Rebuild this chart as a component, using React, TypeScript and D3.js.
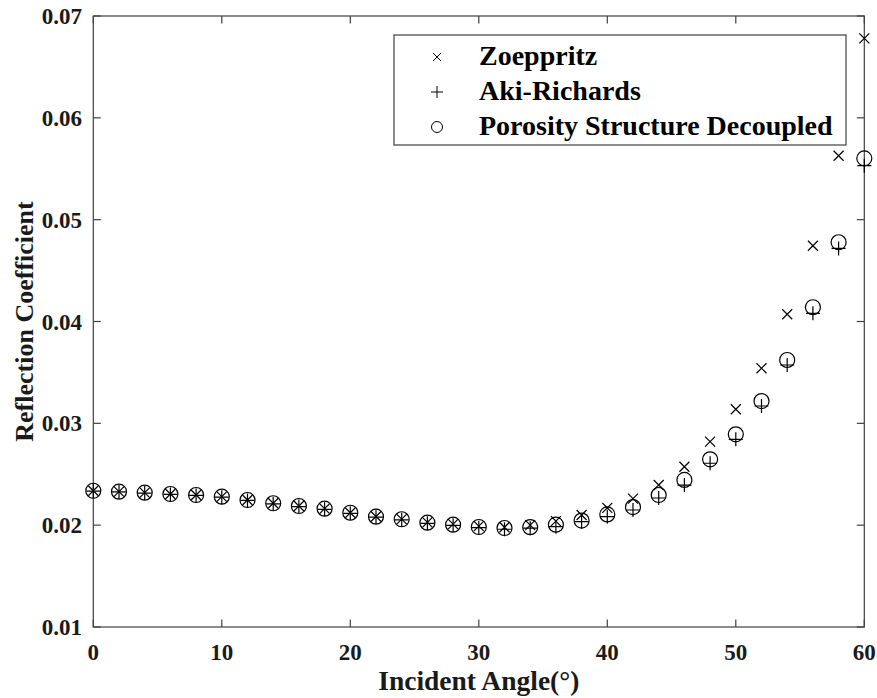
import React from "react";
import * as d3 from "d3";

// Incident angles (degrees)
const angles = [
  0, 2, 4, 6, 8, 10, 12, 14, 16, 18, 20, 22, 24, 26, 28, 30,
  32, 34, 36, 38, 40, 42, 44, 46, 48, 50, 52, 54, 56, 58, 60,
];

// Reflection coefficients per method
const zoeppritz = [
  0.02338, 0.02329, 0.02319, 0.02306, 0.02296, 0.0228, 0.02247, 0.02215,
  0.02188, 0.02162, 0.02122, 0.02085, 0.0206, 0.02028, 0.0201, 0.0199,
  0.0198, 0.02, 0.0204, 0.021, 0.0217, 0.0226, 0.02394, 0.02574, 0.0282,
  0.03138, 0.03541, 0.04071, 0.04744, 0.05628, 0.06781,
];

const akiRichards = [
  0.02335, 0.02326, 0.02315, 0.02302, 0.02292, 0.02275, 0.02243, 0.0221,
  0.02183, 0.02156, 0.02116, 0.02078, 0.02052, 0.02018, 0.01998, 0.01975,
  0.0196, 0.0197, 0.01985, 0.02034, 0.02083, 0.02149, 0.02267, 0.02394,
  0.02608, 0.02843, 0.0317, 0.03573, 0.0408, 0.04718, 0.0553,
];

const porosityDecoupled = [
  0.02338, 0.02329, 0.02319, 0.02306, 0.02296, 0.0228, 0.02247, 0.02215,
  0.02188, 0.02162, 0.02122, 0.02083, 0.02058, 0.02024, 0.02005, 0.01982,
  0.01972, 0.0198, 0.02005, 0.02045, 0.02105, 0.02178, 0.02296, 0.02444,
  0.02647, 0.02892, 0.03219, 0.03622, 0.0414, 0.04778, 0.05602,
];

const xTicks = [0, 10, 20, 30, 40, 50, 60];
const yTicks = [0.01, 0.02, 0.03, 0.04, 0.05, 0.06, 0.07];

const legendLabels = ["Zoeppritz", "Aki-Richards", "Porosity Structure Decoupled"];

const W = 877;
const H = 698;
const left = 93.3;
const right = 864.3;
const top = 16;
const bottom = 627;

const axisColor = "#404040";
const textColor = "#1a1a1a";
const font = "'Liberation Serif', 'Times New Roman', serif";

function crossPath(cx: number, cy: number, s: number) {
  return `M${cx - s},${cy - s}L${cx + s},${cy + s}M${cx - s},${cy + s}L${cx + s},${cy - s}`;
}
function plusPath(cx: number, cy: number, s: number) {
  return `M${cx - s},${cy}L${cx + s},${cy}M${cx},${cy - s}L${cx},${cy + s}`;
}

export default function App() {
  const x = d3.scaleLinear().domain([0, 60]).range([left, right]);
  const y = d3.scaleLinear().domain([0.01, 0.07]).range([bottom, top]);
  const tickLen = 7.5;

  const legendX = 394;
  const legendY = 35;
  const legendW = 452;
  const legendH = 110;
  const rowYs = [57, 92, 127];

  return (
    <svg
      width={W}
      height={H}
      style={{ position: "absolute", left: 0, top: 0, background: "#fff" }}
      fontFamily={font}
    >
      <rect x={0} y={0} width={W} height={H} fill="#fff" />

      {/* plot box */}
      <rect
        x={left}
        y={top}
        width={right - left}
        height={bottom - top}
        fill="none"
        stroke={axisColor}
        strokeWidth={1.2}
      />

      {/* x ticks, bottom and top, inward */}
      {xTicks.map((t) => (
        <g key={"xt" + t}>
          <line x1={x(t)} x2={x(t)} y1={bottom} y2={bottom - tickLen} stroke={axisColor} strokeWidth={1.2} />
          <line x1={x(t)} x2={x(t)} y1={top} y2={top + tickLen} stroke={axisColor} strokeWidth={1.2} />
          <text
            x={x(t)}
            y={660}
            textAnchor="middle"
            fontSize={23}
            fontWeight="bold"
            fill={textColor}
          >
            {t}
          </text>
        </g>
      ))}

      {/* y ticks, left and right, inward */}
      {yTicks.map((t) => (
        <g key={"yt" + t}>
          <line x1={left} x2={left + tickLen} y1={y(t)} y2={y(t)} stroke={axisColor} strokeWidth={1.2} />
          <line x1={right} x2={right - tickLen} y1={y(t)} y2={y(t)} stroke={axisColor} strokeWidth={1.2} />
          <text
            x={82}
            y={y(t) + 8}
            textAnchor="end"
            fontSize={23}
            fontWeight="bold"
            fill={textColor}
          >
            {t.toFixed(2)}
          </text>
        </g>
      ))}

      {/* axis titles */}
      <text
        x={(left + right) / 2}
        y={690}
        textAnchor="middle"
        fontSize={27.5}
        fontWeight="bold"
        fill={textColor}
      >
        Incident Angle(°)
      </text>
      <text
        transform={`translate(33, ${(top + bottom) / 2}) rotate(-90)`}
        textAnchor="middle"
        fontSize={26}
        fontWeight="bold"
        fill={textColor}
      >
        Reflection Coefficient
      </text>

      {/* series markers */}
      <g stroke="#000" strokeWidth={1.2} fill="none">
        {angles.map((a, i) => (
          <path key={"z" + a} d={crossPath(x(a), y(zoeppritz[i]), 5)} />
        ))}
        {angles.map((a, i) => (
          <path key={"a" + a} d={plusPath(x(a), y(akiRichards[i]), 7)} />
        ))}
        {angles.map((a, i) => (
          <circle key={"p" + a} cx={x(a)} cy={y(porosityDecoupled[i])} r={7.5} />
        ))}
      </g>

      {/* legend */}
      <g>
        <rect
          x={legendX}
          y={legendY}
          width={legendW}
          height={legendH}
          fill="#fff"
          stroke={axisColor}
          strokeWidth={1.2}
        />
        <g stroke="#000" strokeWidth={1} fill="none">
          <path d={crossPath(437, rowYs[0], 4)} />
          <path d={plusPath(437, rowYs[1], 6)} />
          <circle cx={437} cy={rowYs[2]} r={5.5} />
        </g>
        {legendLabels.map((l, i) => (
          <text
            key={l}
            x={479}
            y={rowYs[i] + 8}
            fontSize={28}
            fontWeight="bold"
            fill="#000"
          >
            {l}
          </text>
        ))}
      </g>
    </svg>
  );
}
